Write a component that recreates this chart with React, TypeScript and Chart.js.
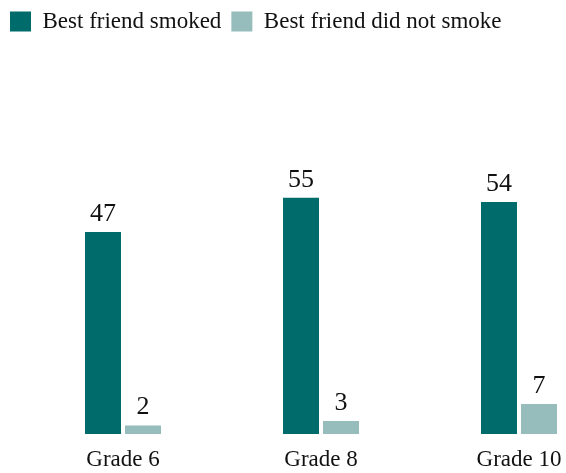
import React, { useEffect, useRef } from "react";
import { Chart, registerables } from "chart.js";

Chart.register(...registerables);

const categories = ["Grade 6", "Grade 8", "Grade 10"];
const smoked = [47, 55, 54];
const notSmoke = [2, 3, 7];
const seriesNames = ["Best friend smoked", "Best friend did not smoke"];

const FONT = "'Liberation Serif', 'Times New Roman', serif";

const valueLabels = {
  id: "valueLabels",
  afterDatasetsDraw(chart: any) {
    const ctx = chart.ctx;
    ctx.save();
    ctx.font = `26px ${FONT}`;
    ctx.fillStyle = "#111";
    ctx.textAlign = "center";
    ctx.textBaseline = "alphabetic";
    chart.data.datasets.forEach((ds: any, di: number) => {
      const meta = chart.getDatasetMeta(di);
      meta.data.forEach((bar: any, i: number) => {
        ctx.fillText(String(ds.data[i]), bar.x, bar.y - 11);
      });
    });
    ctx.restore();
  },
};

export default function App() {
  const ref = useRef<HTMLCanvasElement | null>(null);
  useEffect(() => {
    if (!ref.current) return;
    const chart = new Chart(ref.current, {
      type: "bar",
      data: {
        labels: categories,
        datasets: [
          {
            label: seriesNames[0],
            data: smoked,
            backgroundColor: "#006b6b",
            clip: false as any,
          },
          {
            label: seriesNames[1],
            data: notSmoke,
            backgroundColor: "#96bcbc",
            clip: false as any,
          },
        ],
      },
      options: {
        responsive: false,
        animation: false,
        datasets: {
          bar: { categoryPercentage: 0.404, barPercentage: 0.9 },
        },
        layout: { padding: 0 },
        plugins: {
          legend: {
            position: "top",
            align: "start",
            labels: {
              boxWidth: 21,
              boxHeight: 20,
              padding: 10,
              color: "#111",
              font: { family: FONT, size: 23 },
            },
          },
          tooltip: { enabled: false },
        },
        scales: {
          x: {
            type: "category",
            offset: false,
            grid: { display: false, drawTicks: false },
            border: { display: false },
            ticks: {
              color: "#111",
              padding: 12,
              font: { family: FONT, size: 23 },
              maxRotation: 0,
            },
            afterFit: (s: any) => {
              s.height = 39;
              s.paddingLeft = 0;
              s.paddingRight = 0;
            },
          },
          y: {
            position: "left",
            min: 0,
            max: 91,
            grid: { display: false, drawTicks: false },
            border: { display: false },
            ticks: { display: false },
            afterFit: (s: any) => {
              s.width = 123;
            },
          },
          y2: {
            position: "right",
            min: 0,
            max: 1,
            grid: { display: false, drawTicks: false },
            border: { display: false },
            ticks: { display: false },
            afterFit: (s: any) => {
              s.width = 47;
            },
          },
        },
      },
      plugins: [valueLabels],
    });
    return () => chart.destroy();
  }, []);
  return (
    <div style={{ position: "absolute", left: 0, top: 0, width: 566, height: 473 }}>
      <canvas ref={ref} width={566} height={473} />
    </div>
  );
}
